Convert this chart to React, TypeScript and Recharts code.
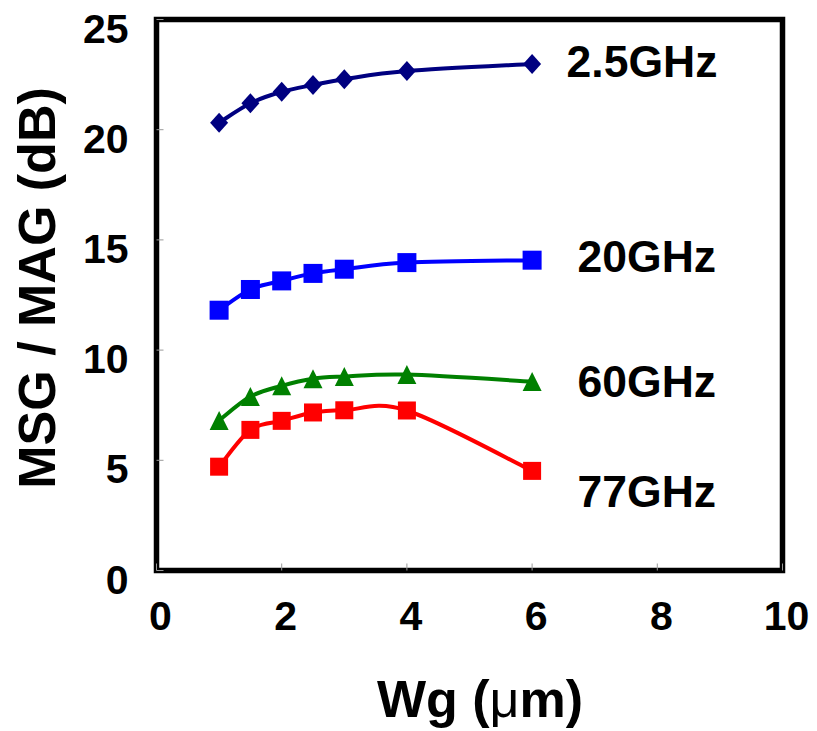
import React from 'react';
import { LineChart, Line, XAxis, YAxis, ReferenceArea, LabelList, Label } from 'recharts';

// ---- data ----
const wgValues = [1, 1.5, 2, 2.5, 3, 4, 6];
const ghz25 = [20.32, 21.2, 21.72, 22.03, 22.29, 22.66, 22.98];
const ghz20 = [11.81, 12.75, 13.14, 13.48, 13.67, 13.97, 14.08];
const ghz60 = [6.81, 7.89, 8.38, 8.7, 8.8, 8.89, 8.57];
const ghz77 = [4.71, 6.38, 6.79, 7.17, 7.27, 7.26, 4.52];
const xTicks = [0, 2, 4, 6, 8, 10];
const yTicks = [0, 5, 10, 15, 20, 25];
const seriesNames = ['2.5GHz', '20GHz', '60GHz', '77GHz'];

const data = wgValues.map((wg, i) => ({
  wg,
  g25: ghz25[i],
  g20: ghz20[i],
  g60: ghz60[i],
  g77: ghz77[i],
}));

const FONT = '"Liberation Sans", Arial, Helvetica, sans-serif';

// Excel-like smoothed line (Catmull-Rom bezier)
const excelCurve = (context: any) => {
  let pts: [number, number][] = [];
  return {
    areaStart() {},
    areaEnd() {},
    lineStart() {
      pts = [];
    },
    lineEnd() {
      const n = pts.length;
      if (n === 0) return;
      context.moveTo(pts[0][0], pts[0][1]);
      for (let i = 0; i < n - 1; i++) {
        const p0 = pts[Math.max(i - 1, 0)];
        const p1 = pts[i];
        const p2 = pts[i + 1];
        const p3 = pts[Math.min(i + 2, n - 1)];
        context.bezierCurveTo(
          p1[0] + (p2[0] - p0[0]) / 6,
          p1[1] + (p2[1] - p0[1]) / 6,
          p2[0] - (p3[0] - p1[0]) / 6,
          p2[1] - (p3[1] - p1[1]) / 6,
          p2[0],
          p2[1]
        );
      }
    },
    point(x: number, y: number) {
      pts.push([+x, +y]);
    },
  };
};

const makeDot = (shape: string, color: string, size: number) => (props: any) => {
  const { cx, cy, index } = props;
  if (cx == null || cy == null) return <g key={`d-${index}`} />;
  const h = size / 2;
  if (shape === 'diamond') {
    return (
      <polygon
        key={`d-${index}`}
        points={`${cx},${cy - h - 1} ${cx + h},${cy} ${cx},${cy + h + 1} ${cx - h},${cy}`}
        fill={color}
      />
    );
  }
  if (shape === 'triangle') {
    return (
      <polygon
        key={`d-${index}`}
        points={`${cx},${cy - h} ${cx + h},${cy + h} ${cx - h},${cy + h}`}
        fill={color}
      />
    );
  }
  return <rect key={`d-${index}`} x={cx - h} y={cy - h} width={size} height={size} fill={color} />;
};

const makeSeriesLabel = (text: string, dx: number, dy: number) => (props: any) => {
  const { index } = props;
  if (index !== wgValues.length - 1) return null;
  const x = props.x ?? props.viewBox?.x;
  const y = props.y ?? props.viewBox?.y;
  return (
    <text x={x + dx} y={y + dy} fontFamily={FONT} fontWeight="bold" fontSize={44.5} fill="#000">
      {text}
    </text>
  );
};

const renderXTick = (props: any) => {
  const { x, payload } = props;
  return (
    <g>
      <line x1={x} x2={x} y1={570.5} y2={563.5} stroke="#9a9a9a" strokeWidth={1} />
      <text x={x + 4} y={630} textAnchor="middle" fontFamily={FONT} fontWeight="bold" fontSize={41} fill="#000">
        {payload.value}
      </text>
    </g>
  );
};

const renderYTick = (props: any) => {
  const { y, payload } = props;
  return (
    <g>
      <line x1={156.5} x2={163.5} y1={y} y2={y} stroke="#9a9a9a" strokeWidth={1} />
      <text x={128.5} y={y + 23} textAnchor="end" fontFamily={FONT} fontWeight="bold" fontSize={41} fill="#000">
        {payload.value}
      </text>
    </g>
  );
};

export default function App() {
  return (
    <div style={{ position: 'absolute', left: 0, top: 0, width: 817, height: 731, background: '#fff' }}>
      <LineChart
        width={817}
        height={731}
        data={data}
        margin={{ top: 19.5, right: 34.5, bottom: 130.5, left: 126.5 }}
      >
        <XAxis
          dataKey="wg"
          type="number"
          domain={[0, 10]}
          ticks={xTicks}
          height={30}
          axisLine={false}
          tickLine={false}
          tick={renderXTick}
          interval={0}
        >
          <Label
            content={(p: any) => {
              const vb = p.viewBox || {};
              return (
                <text
                  x={vb.x + vb.width / 2 + 10.5}
                  y={717}
                  textAnchor="middle"
                  fontFamily={FONT}
                  fontWeight="bold"
                  fontSize={52}
                  fill="#000"
                >
                  Wg (<tspan fontWeight="normal">μ</tspan>m)
                </text>
              );
            }}
          />
        </XAxis>
        <YAxis
          type="number"
          domain={[0, 25]}
          ticks={yTicks}
          width={30}
          axisLine={false}
          tickLine={false}
          tick={renderYTick}
          interval={0}
        >
          <Label
            content={(p: any) => {
              const vb = p.viewBox || {};
              const cy = vb.y + vb.height / 2 - 7;
              return (
                <text
                  transform={`translate(55, ${cy}) rotate(-90)`}
                  x={0}
                  y={0}
                  textAnchor="middle"
                  fontFamily={FONT}
                  fontWeight="bold"
                  fontSize={52}
                  fill="#000"
                >
                  MSG / MAG (dB)
                </text>
              );
            }}
          />
        </YAxis>
        <ReferenceArea x1={0} x2={10} y1={0} y2={25} fill="none" stroke="#000" strokeWidth={5.5} ifOverflow="visible" />
        <Line
          dataKey="g25"
          type={excelCurve as any}
          stroke="#000080"
          strokeWidth={4}
          dot={makeDot('diamond', '#000080', 18)}
          isAnimationActive={false}
        >
          <LabelList dataKey="g25" content={makeSeriesLabel(seriesNames[0], 34.5, 13)} />
        </Line>
        <Line
          dataKey="g20"
          type={excelCurve as any}
          stroke="#0000FF"
          strokeWidth={4}
          dot={makeDot('square', '#0000FF', 19)}
          isAnimationActive={false}
        >
          <LabelList dataKey="g20" content={makeSeriesLabel(seriesNames[1], 45.5, 12)} />
        </Line>
        <Line
          dataKey="g60"
          type={excelCurve as any}
          stroke="#008000"
          strokeWidth={4}
          dot={makeDot('triangle', '#008000', 19)}
          isAnimationActive={false}
        >
          <LabelList dataKey="g60" content={makeSeriesLabel(seriesNames[2], 45.5, 15)} />
        </Line>
        <Line
          dataKey="g77"
          type={excelCurve as any}
          stroke="#FF0000"
          strokeWidth={4}
          dot={makeDot('square', '#FF0000', 18)}
          isAnimationActive={false}
        >
          <LabelList dataKey="g77" content={makeSeriesLabel(seriesNames[3], 45.5, 36)} />
        </Line>
      </LineChart>
    </div>
  );
}
